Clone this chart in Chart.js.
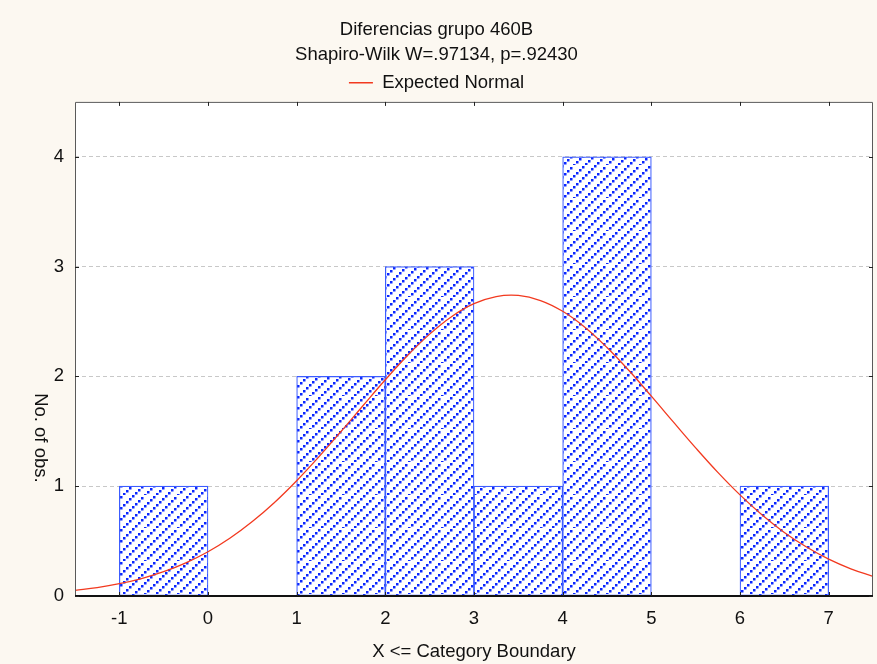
<!DOCTYPE html>
<html>
<head>
<meta charset="utf-8">
<script src="https://cdn.jsdelivr.net/npm/chart.js@4.4.1/dist/chart.umd.min.js"></script>
<style>
  html, body { margin: 0; padding: 0; background: #fcf8f1; }
  #wrap { width: 877px; height: 664px; position: relative; }
</style>
</head>
<body>
<div id="wrap"><canvas id="c"></canvas></div>
<script>
// ---- data ----
const binLower = [-1, 0, 1, 2, 3, 4, 5, 6];
const binUpper = [0, 1, 2, 3, 4, 5, 6, 7];
const counts = [1, 0, 2, 3, 1, 4, 0, 1];
const xTickValues = [-1, 0, 1, 2, 3, 4, 5, 6, 7];
const yTickValues = [0, 1, 2, 3, 4];
// Expected normal curve
const curveX = [-1.5, -1.25, -1, -0.75, -0.5, -0.25, 0, 0.25, 0.5, 0.75, 1, 1.25, 1.5, 1.75, 2, 2.25, 2.5, 2.75, 3, 3.25, 3.5, 3.75, 4, 4.25, 4.5, 4.75, 5, 5.25, 5.5, 5.75, 6, 6.25, 6.5, 6.75, 7, 7.25, 7.5];
const curveY = [0.052, 0.077, 0.112, 0.159, 0.221, 0.302, 0.403, 0.528, 0.678, 0.852, 1.050, 1.267, 1.498, 1.735, 1.969, 2.190, 2.385, 2.546, 2.662, 2.727, 2.737, 2.691, 2.593, 2.448, 2.263, 2.051, 1.820, 1.583, 1.349, 1.126, 0.921, 0.738, 0.579, 0.446, 0.336, 0.248, 0.179];

const titleText = 'Diferencias grupo 460B';
const subtitleText = 'Shapiro-Wilk W=.97134, p=.92430';
const legendText = 'Expected Normal';
const xTitle = 'X <= Category Boundary';
const yTitle = 'No. of obs.';

// ---- styles ----
const BLUE = '#0a26ff';
const RED = '#f2391f';
const FS = 18.5;
Chart.defaults.font.family = "'Liberation Sans', Arial, sans-serif";
Chart.defaults.color = '#111';

function makeHatch() {
  const n = 33;
  const cv = document.createElement('canvas');
  cv.width = n; cv.height = n;
  const g = cv.getContext('2d');
  g.fillStyle = '#ffffff';
  g.fillRect(0, 0, n, n);
  g.fillStyle = BLUE;
  for (const c of [0, 11, 22]) {
    for (let k = 0; k < 11; k++) {
      const x = 3 * k;
      const y = (((c - 3 * k) % n) + n) % n;
      g.fillRect(x, y, 2.5, 2.5);
      if (y === 0) g.fillRect(x, n, 2.5, 2.5);
    }
  }
  return g.createPattern(cv, 'repeat');
}

const hatch = makeHatch();

const bgPlugin = {
  id: 'plotbg',
  beforeDraw(chart) {
    const { ctx, chartArea: a } = chart;
    ctx.save();
    ctx.fillStyle = '#ffffff';
    ctx.fillRect(a.left, a.top, a.right - a.left, a.bottom - a.top);
    ctx.restore();
  }
};

const framePlugin = {
  id: 'frame',
  afterDraw(chart) {
    const { ctx, chartArea: a, scales } = chart;
    ctx.save();
    ctx.strokeStyle = '#5a5a5a';
    ctx.lineWidth = 1;
    ctx.beginPath();
    ctx.moveTo(a.left + 0.5, a.bottom);
    ctx.lineTo(a.left + 0.5, a.top + 0.5);
    ctx.lineTo(a.right - 0.5, a.top + 0.5);
    ctx.lineTo(a.right - 0.5, a.bottom);
    ctx.stroke();
    ctx.strokeStyle = '#111';
    ctx.lineWidth = 2;
    ctx.beginPath();
    ctx.moveTo(a.left, a.bottom);
    ctx.lineTo(a.right, a.bottom);
    ctx.stroke();
    ctx.strokeStyle = '#222';
    ctx.lineWidth = 1;
    ctx.beginPath();
    xTickValues.forEach(v => {
      const px = Math.round(scales.x.getPixelForValue(v)) + 0.5;
      ctx.moveTo(px, a.top); ctx.lineTo(px, a.top + 4);
      ctx.moveTo(px, a.bottom); ctx.lineTo(px, a.bottom - 4);
    });
    yTickValues.forEach(v => {
      const py = Math.round(scales.y.getPixelForValue(v)) + 0.5;
      ctx.moveTo(a.left, py); ctx.lineTo(a.left + 4, py);
      ctx.moveTo(a.right, py); ctx.lineTo(a.right - 4, py);
    });
    ctx.stroke();
    ctx.fillStyle = '#111';
    ctx.font = FS + "px 'Liberation Sans', Arial, sans-serif";
    ctx.textAlign = 'center';
    ctx.textBaseline = 'middle';
    ctx.translate(a.left - 35, a.top + (a.bottom - a.top) * 0.68);
    ctx.rotate(Math.PI / 2);
    ctx.fillText(yTitle, 0, 0);
    ctx.restore();
  }
};

const barData = counts.map((c, i) => ({ x: (binLower[i] + binUpper[i]) / 2, y: c }));
const lineData = curveX.map((x, i) => ({ x: x, y: curveY[i] }));

new Chart(document.getElementById('c'), {
  type: 'bar',
  data: {
    datasets: [
      {
        type: 'line',
        label: legendText,
        data: lineData,
        borderColor: RED,
        borderWidth: 1.3,
        pointRadius: 0,
        tension: 0.4,
        fill: false,
        order: 0
      },
      {
        type: 'bar',
        label: 'obs',
        data: barData,
        backgroundColor: hatch,
        borderColor: '#3c5cff',
        borderWidth: 1.2,
        borderSkipped: false,
        barPercentage: 1,
        categoryPercentage: 1,
        order: 1
      }
    ]
  },
  options: {
    responsive: true,
    maintainAspectRatio: false,
    animation: false,
    layout: { padding: { top: 0, right: 4, bottom: 0, left: 0 } },
    scales: {
      x: {
        type: 'linear',
        min: -1.5,
        max: 7.5,
        offset: false,
        afterBuildTicks: s => { s.ticks = xTickValues.map(v => ({ value: v })); },
        afterFit: s => { s.height = 68; },
        grid: { display: false, drawTicks: false },
        border: { display: false },
        ticks: { font: { size: FS }, color: '#111', padding: 11.5, maxRotation: 0 },
        title: { display: true, text: xTitle, font: { size: FS }, color: '#111', padding: { top: 0, bottom: 1 } }
      },
      y: {
        min: 0,
        max: 4.5,
        afterBuildTicks: s => { s.ticks = yTickValues.map(v => ({ value: v })); },
        afterFit: s => { s.width = 75; },
        grid: { color: '#c8c8c8', drawTicks: false, lineWidth: 1 },
        border: { display: false, dash: [4, 3] },
        ticks: { font: { size: FS }, color: '#111', padding: 11 }
      }
    },
    plugins: {
      title: { display: true, text: titleText, color: '#111', font: { size: FS, weight: 'normal' }, padding: { top: 19, bottom: 3 } },
      subtitle: { display: true, text: subtitleText, color: '#111', font: { size: FS, weight: 'normal' }, padding: { top: 0, bottom: 2 } },
      legend: {
        display: true,
        labels: {
          font: { size: FS },
          color: '#111',
          padding: 5,
          usePointStyle: true,
          pointStyleWidth: 24,
          generateLabels: () => [{
            text: legendText,
            pointStyle: 'line',
            strokeStyle: RED,
            fillStyle: RED,
            lineWidth: 1.5,
            hidden: false,
            datasetIndex: 0,
            fontColor: '#111'
          }]
        }
      },
      tooltip: { enabled: false }
    }
  },
  plugins: [bgPlugin, framePlugin]
});
</script>
</body>
</html>
